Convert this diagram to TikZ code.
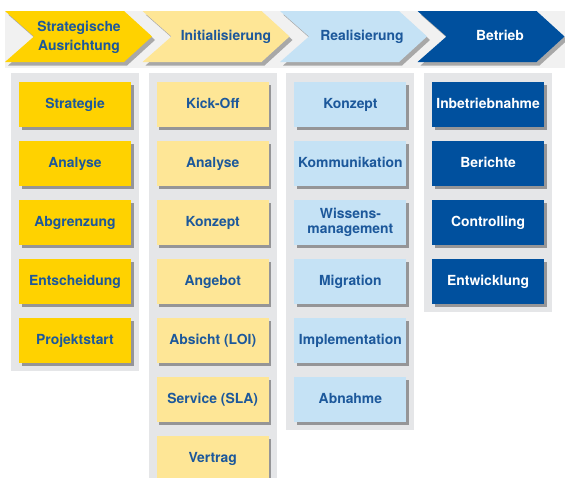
\documentclass[tikz,border=0pt]{standalone}
\usepackage{fontspec}
\setmainfont{TeX Gyre Heros}
\usepackage{tikz}
\usetikzlibrary{shadows}

\begin{document}
\begin{tikzpicture}[x=1pt,y=-1pt,
  phase/.style={drop shadow={shadow xshift=3pt,shadow yshift=-3.5pt,opacity=0.3,fill=black}},
  phasetext/.style={font=\bfseries\fontsize{13.9}{18.5}\selectfont,align=center,inner sep=0pt,
    execute at begin node={\vphantom{Ag}}},
  task/.style={inner sep=0pt,minimum width=112pt,minimum height=45pt,align=center,
    font=\bfseries\fontsize{13.9}{15.5}\selectfont,text=txtBlue,
    execute at begin node={\vphantom{Ag}},
    drop shadow={shadow xshift=2.5pt,shadow yshift=-2.5pt,opacity=0.35,fill=black}}]
\definecolor{stratYellow}{RGB}{255,210,0}
\definecolor{initYellow}{RGB}{254,230,150}
\definecolor{realBlue}{RGB}{197,226,245}
\definecolor{betrBlue}{RGB}{0,80,158}
\definecolor{txtBlue}{RGB}{28,88,155}
\definecolor{panelGrey}{RGB}{229,230,232}
\definecolor{bandGrey}{RGB}{241,241,241}
\useasboundingbox (0,0) rectangle (565,477);
\clip (0,0) rectangle (565,477);
\fill[bandGrey] (5,11) rectangle (565,68);
\foreach \i/\c in {0/stratYellow,1/initYellow,2/realBlue,3/betrBlue}
  \fill[\c,phase] ({5+137.5*\i},11) -- ++(119,0) -- ++(28,25.5) -- ++(-28,25.5) -- ++(-119,0) -- ++(29,-25.5) -- cycle;
\node[phasetext,text=txtBlue] (ph1) at (79,37.5) {Strategische\\Ausrichtung};
\node[phasetext,text=txtBlue] (ph2) at (226,36.8) {Initialisierung};
\node[phasetext,text=txtBlue] (ph3) at (362,36.8) {Realisierung};
\node[phasetext,text=white] (ph4) at (500,36.8) {Betrieb};
\foreach \i/\n in {0/5,1/7,2/6,3/4}
  \fill[panelGrey] ({11+137.7*\i},73) rectangle ++(128,{3+59*\n});
\foreach \t [count=\j] in {Strategie,Analyse,Abgrenzung,Entscheidung,Projektstart}
  \node[task,fill=stratYellow] (strat\j) at (75,{45.5+59*\j}) {\t};
\foreach \t [count=\j] in {Kick-Off,Analyse,Konzept,Angebot,Absicht (LOI),Service (SLA),Vertrag}
  \node[task,fill=initYellow] (init\j) at (212.7,{45.5+59*\j}) {\t};
\foreach \t [count=\j] in {Konzept,Kommunikation,{Wissens-\\management},Migration,Implementation,Abnahme}
  \node[task,fill=realBlue] (real\j) at (350.4,{45.5+59*\j}) {\t};
\foreach \t [count=\j] in {Inbetriebnahme,Berichte,Controlling,Entwicklung}
  \node[task,fill=betrBlue,text=white] (betr\j) at (488.1,{45.5+59*\j}) {\t};
\end{tikzpicture}
\end{document}
